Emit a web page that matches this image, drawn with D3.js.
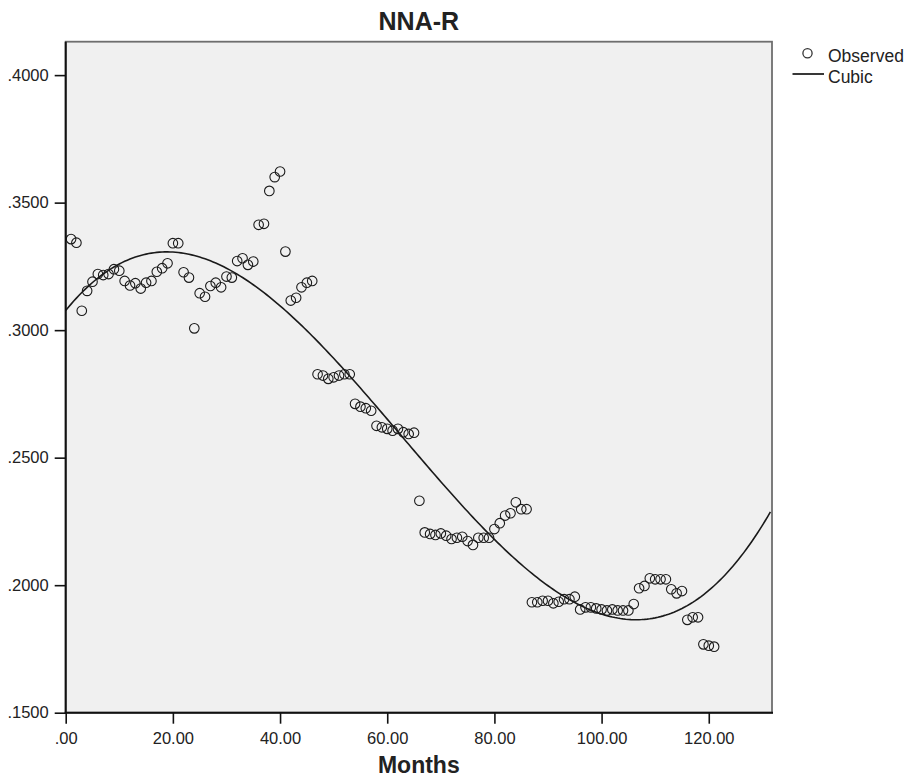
<!DOCTYPE html>
<html>
<head>
<meta charset="utf-8">
<script src="https://cdn.jsdelivr.net/npm/d3@7"></script>
<style>
  body { margin: 0; background: #fff; }
  text { font-family: "Liberation Sans", Arial, sans-serif; fill: #222; }
</style>
</head>
<body>
<div id="chart"></div>
<script>
// observed NNA-R value for months 1..121
var months = d3.range(1, 122);
var observed = [
  0.3357, 0.3343, 0.3076, 0.3154, 0.3190, 0.3220, 0.3216, 0.3220, 0.3239, 0.3233,
  0.3193, 0.3175, 0.3184, 0.3163, 0.3186, 0.3193, 0.3229, 0.3243, 0.3262, 0.3341,
  0.3341, 0.3227, 0.3206, 0.3007, 0.3145, 0.3131, 0.3173, 0.3186, 0.3168, 0.3210,
  0.3206, 0.3271, 0.3282, 0.3256, 0.3269, 0.3413, 0.3417, 0.3546, 0.3600, 0.3622,
  0.3308, 0.3116, 0.3127, 0.3168, 0.3186, 0.3193, 0.2827, 0.2822, 0.2809, 0.2815,
  0.2822, 0.2827, 0.2827, 0.2711, 0.2700, 0.2694, 0.2684, 0.2625, 0.2619, 0.2613,
  0.2606, 0.2613, 0.2600, 0.2593, 0.2598, 0.2331, 0.2207, 0.2201, 0.2197, 0.2203,
  0.2194, 0.2181, 0.2186, 0.2190, 0.2173, 0.2158, 0.2186, 0.2186, 0.2186, 0.2220,
  0.2243, 0.2273, 0.2282, 0.2325, 0.2298, 0.2298, 0.1933, 0.1933, 0.1939, 0.1939,
  0.1929, 0.1935, 0.1945, 0.1945, 0.1955, 0.1905, 0.1913, 0.1913, 0.1909, 0.1905,
  0.1901, 0.1905, 0.1901, 0.1901, 0.1901, 0.1926, 0.1988, 0.1997, 0.2027, 0.2023,
  0.2023, 0.2023, 0.1984, 0.1968, 0.1977, 0.1864, 0.1874, 0.1874, 0.1768, 0.1763,
  0.1759
];
var xTicks = [0, 20, 40, 60, 80, 100, 120];
var yTicks = [0.15, 0.20, 0.25, 0.30, 0.35, 0.40];
var legendLabels = ["Observed", "Cubic"];

var width = 914, height = 779;
var pLeft = 65.7, pRight = 772, pTop = 41.7, pBottom = 712.7;

var svg = d3.select("#chart").append("svg")
    .attr("width", width)
    .attr("height", height);

svg.append("rect").attr("width", width).attr("height", height).attr("fill", "#fff");

var x = d3.scaleLinear().domain([0, 131.8]).range([pLeft, pRight]);
var y = d3.scaleLinear().domain([0.15, 0.4131]).range([pBottom, pTop]);

// least squares cubic fit of observed on months
var fitCubic = function(xs, ys){
  var n = 4, A = [], b = [];
  for (var i = 0; i < n; i++) { A.push([0, 0, 0, 0]); b.push(0); }
  xs.forEach(function(xv, k){
    var t = xv / 100;
    var p = [1, t, t * t, t * t * t];
    for (var i = 0; i < n; i++) {
      b[i] += p[i] * ys[k];
      for (var j = 0; j < n; j++) A[i][j] += p[i] * p[j];
    }
  });
  for (var c = 0; c < n; c++) {
    for (var r = c + 1; r < n; r++) {
      var f = A[r][c] / A[c][c];
      for (var j = c; j < n; j++) A[r][j] -= f * A[c][j];
      b[r] -= f * b[c];
    }
  }
  var coef = [0, 0, 0, 0];
  for (var r = n - 1; r >= 0; r--) {
    var s = b[r];
    for (var j = r + 1; j < n; j++) s -= A[r][j] * coef[j];
    coef[r] = s / A[r][r];
  }
  return function(xv){
    var t = xv / 100;
    return coef[0] + coef[1] * t + coef[2] * t * t + coef[3] * t * t * t;
  };
};
var cubic = fitCubic(months, observed);

// plot background + frame
svg.append("rect")
    .attr("x", pLeft).attr("y", pTop)
    .attr("width", pRight - pLeft).attr("height", pBottom - pTop)
    .attr("fill", "#f0f0f0")
    .attr("stroke", "#6e6e6e")
    .attr("stroke-width", 1.8);

svg.append("clipPath").attr("id", "clip")
  .append("rect").attr("x", pLeft).attr("y", pTop)
  .attr("width", pRight - pLeft).attr("height", pBottom - pTop);

var plot = svg.append("g");

// fitted line
var curveX = d3.range(0, 132, 0.5);
plot.append("path")
    .datum(curveX)
    .attr("clip-path", "url(#clip)")
    .attr("fill", "none")
    .attr("stroke", "#1a1a1a")
    .attr("stroke-width", 1.6)
    .attr("d", d3.line().x(function(d){ return x(d); }).y(function(d){ return y(cubic(d)); }));

// observed circles
plot.selectAll("circle.obs")
    .data(months)
  .enter().append("circle")
    .attr("class", "obs")
    .attr("cx", function(d){ return x(d); })
    .attr("cy", function(d, i){ return y(observed[i]); })
    .attr("r", 4.8)
    .attr("fill", "none")
    .attr("stroke", "#1a1a1a")
    .attr("stroke-width", 1.1);

// axes
var xAxis = svg.append("g")
    .attr("transform", "translate(0," + pBottom + ")")
    .call(d3.axisBottom(x).tickValues(xTicks).tickSize(11).tickPadding(9)
      .tickFormat(function(d){ return d === 0 ? ".00" : d3.format(".2f")(d); }));
var yAxis = svg.append("g")
    .attr("transform", "translate(" + pLeft + ",0)")
    .call(d3.axisLeft(y).tickValues(yTicks).tickSize(11).tickPadding(6)
      .tickFormat(function(d){ return d3.format(".4f")(d).replace(/^0/, ""); }));

[xAxis, yAxis].forEach(function(ax){
  ax.select(".domain").attr("stroke", "#111").attr("stroke-width", 2);
  ax.selectAll(".tick line").attr("stroke", "#111").attr("stroke-width", 1.6);
  ax.selectAll(".tick text")
    .attr("fill", "#2a2a2a")
    .style("font-family", "'Liberation Sans', Arial, sans-serif")
    .style("font-size", "16.5px");
});
yAxis.select(".domain").attr("d", "M0," + pTop + "V" + (pBottom + 1));
xAxis.select(".domain").attr("d", "M-1,0H" + (pRight - pLeft + 1)).attr("transform", "translate(" + pLeft + ",0)");

// titles
svg.append("text")
    .attr("x", (pLeft + pRight) / 2).attr("y", 30)
    .attr("text-anchor", "middle")
    .style("font-size", "25px").style("font-weight", "bold")
    .attr("fill", "#111")
    .text("NNA-R");
svg.append("text")
    .attr("x", (pLeft + pRight) / 2).attr("y", 773)
    .attr("text-anchor", "middle")
    .style("font-size", "23px").style("font-weight", "bold")
    .attr("fill", "#111")
    .text("Months");

// legend
var legend = svg.append("g");
legend.append("circle")
    .attr("cx", 807.5).attr("cy", 53.3).attr("r", 4.6)
    .attr("fill", "none").attr("stroke", "#333").attr("stroke-width", 1.3);
legend.append("line")
    .attr("x1", 792.5).attr("x2", 824).attr("y1", 74).attr("y2", 74)
    .attr("stroke", "#222").attr("stroke-width", 1.8);
legend.selectAll("text.lg")
    .data(legendLabels)
  .enter().append("text")
    .attr("class", "lg")
    .attr("x", 828)
    .attr("y", function(d, i){ return 61.7 + i * 21.6; })
    .style("font-size", "17.5px")
    .text(function(d){ return d; });
</script>
</body>
</html>
